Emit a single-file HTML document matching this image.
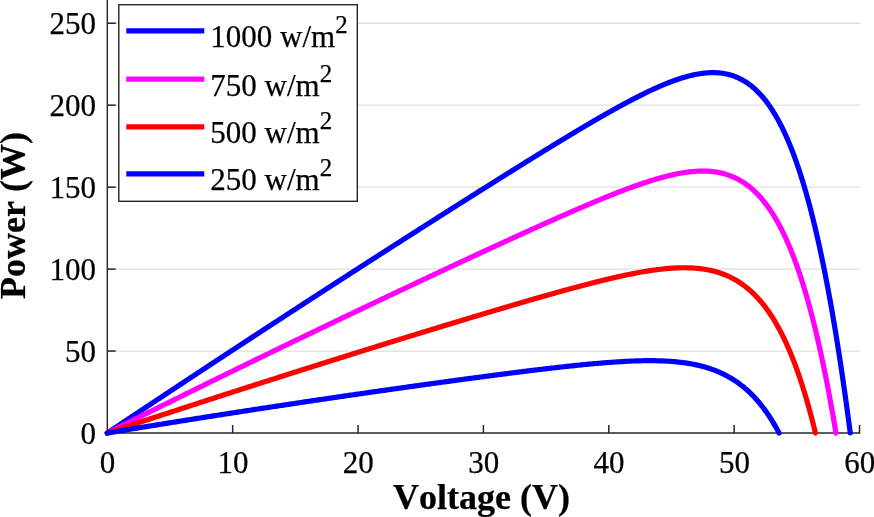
<!DOCTYPE html>
<html><head><meta charset="utf-8"><style>
html,body{margin:0;padding:0;background:#fff;overflow:hidden}
svg{display:block;will-change:transform}
text{font-family:"Liberation Serif",serif;font-size:31px;fill:#000;font-kerning:none;stroke:#000;stroke-width:0.25px}
.lab{font-weight:bold;font-size:36px}
</style></head><body>
<svg width="874" height="517" viewBox="0 0 874 517">
<rect width="874" height="517" fill="#fff"/>
<line x1="107.3" y1="351.05" x2="859.9" y2="351.05" stroke="#dfdfdf" stroke-width="1.3"/><line x1="107.3" y1="269.10" x2="859.9" y2="269.10" stroke="#dfdfdf" stroke-width="1.3"/><line x1="107.3" y1="187.15" x2="859.9" y2="187.15" stroke="#dfdfdf" stroke-width="1.3"/><line x1="107.3" y1="105.20" x2="859.9" y2="105.20" stroke="#dfdfdf" stroke-width="1.3"/><line x1="107.3" y1="23.25" x2="859.9" y2="23.25" stroke="#dfdfdf" stroke-width="1.3"/>
<line x1="107.3" y1="0" x2="107.3" y2="433.85" stroke="#262626" stroke-width="1.4"/>
<line x1="106.60" y1="433.0" x2="860.20" y2="433.0" stroke="#262626" stroke-width="1.7"/>
<line x1="107.3" y1="351.05" x2="115.70" y2="351.05" stroke="#262626" stroke-width="1.5"/><line x1="107.3" y1="269.10" x2="115.70" y2="269.10" stroke="#262626" stroke-width="1.5"/><line x1="107.3" y1="187.15" x2="115.70" y2="187.15" stroke="#262626" stroke-width="1.5"/><line x1="107.3" y1="105.20" x2="115.70" y2="105.20" stroke="#262626" stroke-width="1.5"/><line x1="107.3" y1="23.25" x2="115.70" y2="23.25" stroke="#262626" stroke-width="1.5"/><line x1="232.67" y1="433" x2="232.67" y2="425.0" stroke="#262626" stroke-width="1.5"/><line x1="358.04" y1="433" x2="358.04" y2="425.0" stroke="#262626" stroke-width="1.5"/><line x1="483.41" y1="433" x2="483.41" y2="425.0" stroke="#262626" stroke-width="1.5"/><line x1="608.78" y1="433" x2="608.78" y2="425.0" stroke="#262626" stroke-width="1.5"/><line x1="734.15" y1="433" x2="734.15" y2="425.0" stroke="#262626" stroke-width="1.5"/><line x1="859.52" y1="433" x2="859.52" y2="425.0" stroke="#262626" stroke-width="1.5"/>
<path d="M107.30,433.00 L108.29,432.34 L109.28,431.68 L110.27,431.02 L111.27,430.35 L112.26,429.69 L113.25,429.03 L114.24,428.37 L115.23,427.71 L116.22,427.05 L117.21,426.39 L118.20,425.73 L119.20,425.07 L120.19,424.41 L121.18,423.75 L122.17,423.09 L123.16,422.43 L124.15,421.77 L125.14,421.11 L126.13,420.45 L127.13,419.79 L128.12,419.13 L129.11,418.47 L130.10,417.81 L131.09,417.15 L132.08,416.49 L133.07,415.83 L134.06,415.17 L135.06,414.51 L136.05,413.85 L137.04,413.20 L138.03,412.54 L139.02,411.88 L140.01,411.22 L141.00,410.56 L142.00,409.90 L142.99,409.24 L143.98,408.59 L144.97,407.93 L145.96,407.27 L146.95,406.61 L147.94,405.95 L148.93,405.30 L149.93,404.64 L150.92,403.98 L151.91,403.32 L152.90,402.67 L153.89,402.01 L154.88,401.35 L155.87,400.69 L156.86,400.04 L157.86,399.38 L158.85,398.72 L159.84,398.07 L160.83,397.41 L161.82,396.75 L162.81,396.10 L163.80,395.44 L164.80,394.78 L165.79,394.13 L166.78,393.47 L167.77,392.82 L168.76,392.16 L169.75,391.50 L170.74,390.85 L171.73,390.19 L172.73,389.54 L173.72,388.88 L174.71,388.23 L175.70,387.57 L176.69,386.92 L177.68,386.26 L178.67,385.61 L179.66,384.95 L180.66,384.30 L181.65,383.64 L182.64,382.99 L183.63,382.33 L184.62,381.68 L185.61,381.02 L186.60,380.37 L187.59,379.72 L188.59,379.06 L189.58,378.41 L190.57,377.75 L191.56,377.10 L192.55,376.45 L193.54,375.79 L194.53,375.14 L195.53,374.49 L196.52,373.83 L197.51,373.18 L198.50,372.53 L199.49,371.87 L200.48,371.22 L201.47,370.57 L202.46,369.91 L203.46,369.26 L204.45,368.61 L205.44,367.96 L206.43,367.30 L207.42,366.65 L208.41,366.00 L209.40,365.35 L210.39,364.69 L211.39,364.04 L212.38,363.39 L213.37,362.74 L214.36,362.09 L215.35,361.44 L216.34,360.78 L217.33,360.13 L218.32,359.48 L219.32,358.83 L220.31,358.18 L221.30,357.53 L222.29,356.88 L223.28,356.23 L224.27,355.58 L225.26,354.92 L226.26,354.27 L227.25,353.62 L228.24,352.97 L229.23,352.32 L230.22,351.67 L231.21,351.02 L232.20,350.37 L233.19,349.72 L234.19,349.07 L235.18,348.42 L236.17,347.77 L237.16,347.12 L238.15,346.47 L239.14,345.82 L240.13,345.17 L241.12,344.53 L242.12,343.88 L243.11,343.23 L244.10,342.58 L245.09,341.93 L246.08,341.28 L247.07,340.63 L248.06,339.98 L249.05,339.33 L250.05,338.69 L251.04,338.04 L252.03,337.39 L253.02,336.74 L254.01,336.09 L255.00,335.45 L255.99,334.80 L256.99,334.15 L257.98,333.50 L258.97,332.85 L259.96,332.21 L260.95,331.56 L261.94,330.91 L262.93,330.27 L263.92,329.62 L264.92,328.97 L265.91,328.32 L266.90,327.68 L267.89,327.03 L268.88,326.38 L269.87,325.74 L270.86,325.09 L271.85,324.44 L272.85,323.80 L273.84,323.15 L274.83,322.51 L275.82,321.86 L276.81,321.21 L277.80,320.57 L278.79,319.92 L279.79,319.28 L280.78,318.63 L281.77,317.99 L282.76,317.34 L283.75,316.69 L284.74,316.05 L285.73,315.40 L286.72,314.76 L287.72,314.11 L288.71,313.47 L289.70,312.82 L290.69,312.18 L291.68,311.54 L292.67,310.89 L293.66,310.25 L294.65,309.60 L295.65,308.96 L296.64,308.31 L297.63,307.67 L298.62,307.03 L299.61,306.38 L300.60,305.74 L301.59,305.09 L302.58,304.45 L303.58,303.81 L304.57,303.16 L305.56,302.52 L306.55,301.88 L307.54,301.23 L308.53,300.59 L309.52,299.95 L310.52,299.31 L311.51,298.66 L312.50,298.02 L313.49,297.38 L314.48,296.74 L315.47,296.09 L316.46,295.45 L317.45,294.81 L318.45,294.17 L319.44,293.52 L320.43,292.88 L321.42,292.24 L322.41,291.60 L323.40,290.96 L324.39,290.32 L325.38,289.67 L326.38,289.03 L327.37,288.39 L328.36,287.75 L329.35,287.11 L330.34,286.47 L331.33,285.83 L332.32,285.19 L333.31,284.55 L334.31,283.91 L335.30,283.27 L336.29,282.62 L337.28,281.98 L338.27,281.34 L339.26,280.70 L340.25,280.06 L341.25,279.42 L342.24,278.78 L343.23,278.14 L344.22,277.50 L345.21,276.87 L346.20,276.23 L347.19,275.59 L348.18,274.95 L349.18,274.31 L350.17,273.67 L351.16,273.03 L352.15,272.39 L353.14,271.75 L354.13,271.11 L355.12,270.47 L356.11,269.84 L357.11,269.20 L358.10,268.56 L359.09,267.92 L360.08,267.28 L361.07,266.64 L362.06,266.01 L363.05,265.37 L364.04,264.73 L365.04,264.09 L366.03,263.46 L367.02,262.82 L368.01,262.18 L369.00,261.54 L369.99,260.91 L370.98,260.27 L371.98,259.63 L372.97,259.00 L373.96,258.36 L374.95,257.72 L375.94,257.09 L376.93,256.45 L377.92,255.81 L378.91,255.18 L379.91,254.54 L380.90,253.90 L381.89,253.27 L382.88,252.63 L383.87,252.00 L384.86,251.36 L385.85,250.72 L386.84,250.09 L387.84,249.45 L388.83,248.82 L389.82,248.18 L390.81,247.55 L391.80,246.91 L392.79,246.28 L393.78,245.64 L394.78,245.01 L395.77,244.37 L396.76,243.74 L397.75,243.10 L398.74,242.47 L399.73,241.84 L400.72,241.20 L401.71,240.57 L402.71,239.93 L403.70,239.30 L404.69,238.67 L405.68,238.03 L406.67,237.40 L407.66,236.76 L408.65,236.13 L409.64,235.50 L410.64,234.86 L411.63,234.23 L412.62,233.60 L413.61,232.97 L414.60,232.33 L415.59,231.70 L416.58,231.07 L417.57,230.44 L418.57,229.80 L419.56,229.17 L420.55,228.54 L421.54,227.91 L422.53,227.27 L423.52,226.64 L424.51,226.01 L425.51,225.38 L426.50,224.75 L427.49,224.12 L428.48,223.49 L429.47,222.85 L430.46,222.22 L431.45,221.59 L432.44,220.96 L433.44,220.33 L434.43,219.70 L435.42,219.07 L436.41,218.44 L437.40,217.81 L438.39,217.18 L439.38,216.55 L440.37,215.92 L441.37,215.29 L442.36,214.66 L443.35,214.03 L444.34,213.40 L445.33,212.77 L446.32,212.14 L447.31,211.51 L448.30,210.88 L449.30,210.26 L450.29,209.63 L451.28,209.00 L452.27,208.37 L453.26,207.74 L454.25,207.11 L455.24,206.48 L456.24,205.86 L457.23,205.23 L458.22,204.60 L459.21,203.97 L460.20,203.35 L461.19,202.72 L462.18,202.09 L463.17,201.46 L464.17,200.84 L465.16,200.21 L466.15,199.58 L467.14,198.96 L468.13,198.33 L469.12,197.70 L470.11,197.08 L471.10,196.45 L472.10,195.83 L473.09,195.20 L474.08,194.58 L475.07,193.95 L476.06,193.33 L477.05,192.70 L478.04,192.08 L479.03,191.45 L480.03,190.83 L481.02,190.20 L482.01,189.58 L483.00,188.95 L483.99,188.33 L484.98,187.70 L485.97,187.08 L486.97,186.46 L487.96,185.83 L488.95,185.21 L489.94,184.59 L490.93,183.96 L491.92,183.34 L492.91,182.72 L493.90,182.10 L494.90,181.48 L495.89,180.85 L496.88,180.23 L497.87,179.61 L498.86,178.99 L499.85,178.37 L500.84,177.75 L501.83,177.12 L502.83,176.50 L503.82,175.88 L504.81,175.26 L505.80,174.64 L506.79,174.02 L507.78,173.40 L508.77,172.78 L509.77,172.17 L510.76,171.55 L511.75,170.93 L512.74,170.31 L513.73,169.69 L514.72,169.07 L515.71,168.45 L516.70,167.84 L517.70,167.22 L518.69,166.60 L519.68,165.99 L520.67,165.37 L521.66,164.75 L522.65,164.14 L523.64,163.52 L524.63,162.91 L525.63,162.29 L526.62,161.67 L527.61,161.06 L528.60,160.45 L529.59,159.83 L530.58,159.22 L531.57,158.60 L532.56,157.99 L533.56,157.38 L534.55,156.76 L535.54,156.15 L536.53,155.54 L537.52,154.93 L538.51,154.32 L539.50,153.71 L540.50,153.10 L541.49,152.49 L542.48,151.88 L543.47,151.27 L544.46,150.66 L545.45,150.05 L546.44,149.44 L547.43,148.83 L548.43,148.22 L549.42,147.62 L550.41,147.01 L551.40,146.40 L552.39,145.80 L553.38,145.19 L554.37,144.59 L555.36,143.98 L556.36,143.38 L557.35,142.77 L558.34,142.17 L559.33,141.57 L560.32,140.97 L561.31,140.36 L562.30,139.76 L563.29,139.16 L564.29,138.56 L565.28,137.96 L566.27,137.36 L567.26,136.76 L568.25,136.17 L569.24,135.57 L570.23,134.97 L571.23,134.38 L572.22,133.78 L573.21,133.19 L574.20,132.59 L575.19,132.00 L576.18,131.40 L577.17,130.81 L578.16,130.22 L579.16,129.63 L580.15,129.04 L581.14,128.45 L582.13,127.86 L583.12,127.28 L584.11,126.69 L585.10,126.10 L586.09,125.52 L587.09,124.93 L588.08,124.35 L589.07,123.77 L590.06,123.18 L591.05,122.60 L592.04,122.02 L593.03,121.45 L594.03,120.87 L595.02,120.29 L596.01,119.71 L597.00,119.14 L597.99,118.57 L598.98,117.99 L599.97,117.42 L600.96,116.85 L601.96,116.28 L602.95,115.71 L603.94,115.15 L604.93,114.58 L605.92,114.02 L606.91,113.45 L607.90,112.89 L608.89,112.33 L609.89,111.77 L610.88,111.22 L611.87,110.66 L612.86,110.11 L613.85,109.55 L614.84,109.00 L615.83,108.45 L616.82,107.90 L617.82,107.36 L618.81,106.81 L619.80,106.27 L620.79,105.73 L621.78,105.19 L622.77,104.65 L623.76,104.11 L624.76,103.58 L625.75,103.04 L626.74,102.51 L627.73,101.99 L628.72,101.46 L629.71,100.94 L630.70,100.41 L631.69,99.89 L632.69,99.38 L633.68,98.86 L634.67,98.35 L635.66,97.84 L637.15,97.08 L638.63,96.32 L640.12,95.57 L641.61,94.83 L643.09,94.10 L644.58,93.37 L646.07,92.64 L647.55,91.93 L649.04,91.22 L650.53,90.52 L652.02,89.82 L653.50,89.14 L654.99,88.46 L656.48,87.79 L657.96,87.13 L659.45,86.48 L660.94,85.84 L662.42,85.21 L663.91,84.59 L665.40,83.97 L666.89,83.37 L668.37,82.78 L669.86,82.21 L671.35,81.64 L672.83,81.09 L674.32,80.55 L675.81,80.02 L677.29,79.50 L678.78,79.00 L680.27,78.52 L681.75,78.05 L683.24,77.59 L684.73,77.15 L686.22,76.73 L687.70,76.32 L689.19,75.93 L690.68,75.56 L692.16,75.21 L693.65,74.88 L695.14,74.57 L696.62,74.28 L698.11,74.01 L699.60,73.76 L701.08,73.53 L702.57,73.33 L704.06,73.15 L705.55,73.00 L707.03,72.87 L708.52,72.77 L710.01,72.70 L711.49,72.65 L712.98,72.64 L714.47,72.65 L715.95,72.70 L717.44,72.78 L718.93,72.89 L720.41,73.03 L721.90,73.21 L723.39,73.43 L724.88,73.69 L726.36,73.98 L727.85,74.31 L729.34,74.69 L730.82,75.11 L732.31,75.57 L733.80,76.07 L735.28,76.63 L736.77,77.23 L738.26,77.88 L739.75,78.58 L741.23,79.33 L742.22,79.86 L743.21,80.42 L744.21,81.00 L745.20,81.61 L746.19,82.24 L747.18,82.90 L748.17,83.59 L749.16,84.30 L750.15,85.04 L751.15,85.81 L752.14,86.61 L753.13,87.44 L754.12,88.30 L755.11,89.19 L756.10,90.11 L757.09,91.06 L758.08,92.05 L759.08,93.07 L760.07,94.12 L761.06,95.21 L762.05,96.33 L763.04,97.49 L764.03,98.68 L765.02,99.91 L766.01,101.18 L767.01,102.48 L768.00,103.83 L768.99,105.21 L769.98,106.64 L770.97,108.11 L771.96,109.61 L772.95,111.16 L773.94,112.76 L774.94,114.40 L775.93,116.08 L776.92,117.81 L777.91,119.58 L778.90,121.40 L779.89,123.27 L780.88,125.19 L781.88,127.16 L782.87,129.17 L783.36,130.20 L783.86,131.24 L784.35,132.30 L784.85,133.36 L785.34,134.44 L785.84,135.53 L786.34,136.64 L786.83,137.76 L787.33,138.89 L787.82,140.04 L788.32,141.20 L788.81,142.38 L789.31,143.57 L789.81,144.77 L790.30,145.99 L790.80,147.22 L791.29,148.46 L791.79,149.72 L792.28,151.00 L792.78,152.29 L793.27,153.60 L793.77,154.91 L794.27,156.25 L794.76,157.60 L795.26,158.97 L795.75,160.35 L796.25,161.74 L796.74,163.16 L797.24,164.58 L797.74,166.03 L798.23,167.49 L798.73,168.96 L799.22,170.46 L799.72,171.96 L800.21,173.49 L800.71,175.03 L801.21,176.59 L801.70,178.16 L802.20,179.76 L802.69,181.37 L803.19,182.99 L803.68,184.63 L804.18,186.30 L804.67,187.97 L805.17,189.67 L805.67,191.38 L806.16,193.12 L806.66,194.87 L807.15,196.63 L807.65,198.42 L808.14,200.22 L808.64,202.05 L809.14,203.89 L809.63,205.75 L810.13,207.63 L810.62,209.52 L811.12,211.44 L811.61,213.38 L812.11,215.33 L812.61,217.31 L813.10,219.30 L813.60,221.31 L814.09,223.35 L814.59,225.40 L815.08,227.47 L815.58,229.57 L816.07,231.68 L816.57,233.82 L817.07,235.97 L817.56,238.14 L818.06,240.34 L818.55,242.56 L819.05,244.79 L819.54,247.05 L820.04,249.33 L820.54,251.63 L821.03,253.96 L821.53,256.30 L822.02,258.67 L822.52,261.05 L823.01,263.46 L823.51,265.89 L824.01,268.35 L824.50,270.82 L825.00,273.32 L825.49,275.84 L825.99,278.39 L826.48,280.95 L826.98,283.54 L827.47,286.15 L827.97,288.79 L828.47,291.44 L828.96,294.13 L829.46,296.83 L829.95,299.56 L830.45,302.31 L830.94,305.09 L831.44,307.88 L831.94,310.71 L832.43,313.55 L832.93,316.43 L833.42,319.32 L833.92,322.24 L834.41,325.19 L834.91,328.16 L835.40,331.15 L835.90,334.17 L836.40,337.21 L836.89,340.28 L837.39,343.38 L837.88,346.50 L838.38,349.64 L838.87,352.81 L839.37,356.01 L839.87,359.23 L840.36,362.48 L840.86,365.75 L841.35,369.05 L841.85,372.37 L842.34,375.73 L842.84,379.10 L843.34,382.51 L843.83,385.94 L844.33,389.40 L844.82,392.88 L845.32,396.39 L845.81,399.93 L846.31,403.49 L846.80,407.09 L847.30,410.71 L847.80,414.35 L848.29,418.03 L848.79,421.73 L849.28,425.46 L849.78,429.22 L850.27,433.00" fill="none" stroke="#0000ff" stroke-width="5.2" stroke-linejoin="round" stroke-linecap="round"/><path d="M107.30,433.00 L108.76,432.27 L110.22,431.54 L111.67,430.81 L113.13,430.09 L114.59,429.36 L116.05,428.63 L117.51,427.90 L118.97,427.17 L120.42,426.45 L121.88,425.72 L123.34,424.99 L124.80,424.26 L126.26,423.54 L127.72,422.81 L129.17,422.09 L130.63,421.36 L132.09,420.63 L133.55,419.91 L135.01,419.18 L136.47,418.46 L137.92,417.73 L139.38,417.01 L140.84,416.28 L142.30,415.56 L143.76,414.83 L145.22,414.11 L146.67,413.39 L148.13,412.66 L149.59,411.94 L151.05,411.21 L152.51,410.49 L153.97,409.77 L155.42,409.05 L156.88,408.32 L158.34,407.60 L159.80,406.88 L161.26,406.16 L162.71,405.44 L164.17,404.71 L165.63,403.99 L167.09,403.27 L168.55,402.55 L170.01,401.83 L171.46,401.11 L172.92,400.39 L174.38,399.67 L175.84,398.95 L177.30,398.23 L178.76,397.51 L180.21,396.79 L181.67,396.07 L183.13,395.35 L184.59,394.63 L186.05,393.91 L187.51,393.20 L188.96,392.48 L190.42,391.76 L191.88,391.04 L193.34,390.32 L194.80,389.61 L196.26,388.89 L197.71,388.17 L199.17,387.45 L200.63,386.74 L202.09,386.02 L203.55,385.31 L205.00,384.59 L206.46,383.87 L207.92,383.16 L209.38,382.44 L210.84,381.73 L212.30,381.01 L213.75,380.30 L215.21,379.58 L216.67,378.87 L218.13,378.15 L219.59,377.44 L221.05,376.73 L222.50,376.01 L223.96,375.30 L225.42,374.58 L226.88,373.87 L228.34,373.16 L229.80,372.45 L231.25,371.73 L232.71,371.02 L234.17,370.31 L235.63,369.60 L237.09,368.89 L238.55,368.17 L240.00,367.46 L241.46,366.75 L242.92,366.04 L244.38,365.33 L245.84,364.62 L247.30,363.91 L248.75,363.20 L250.21,362.49 L251.67,361.78 L253.13,361.07 L254.59,360.36 L256.04,359.65 L257.50,358.94 L258.96,358.23 L260.42,357.52 L261.88,356.82 L263.34,356.11 L264.79,355.40 L266.25,354.69 L267.71,353.98 L269.17,353.28 L270.63,352.57 L272.09,351.86 L273.54,351.16 L275.00,350.45 L276.46,349.74 L277.92,349.04 L279.38,348.33 L280.84,347.62 L282.29,346.92 L283.75,346.21 L285.21,345.51 L286.67,344.80 L288.13,344.10 L289.59,343.39 L291.04,342.69 L292.50,341.98 L293.96,341.28 L295.42,340.58 L296.88,339.87 L298.34,339.17 L299.79,338.47 L301.25,337.76 L302.71,337.06 L304.17,336.36 L305.63,335.65 L307.08,334.95 L308.54,334.25 L310.00,333.55 L311.46,332.85 L312.92,332.15 L314.38,331.44 L315.83,330.74 L317.29,330.04 L318.75,329.34 L320.21,328.64 L321.67,327.94 L323.13,327.24 L324.58,326.54 L326.04,325.84 L327.50,325.14 L328.96,324.44 L330.42,323.74 L331.88,323.04 L333.33,322.34 L334.79,321.65 L336.25,320.95 L337.71,320.25 L339.17,319.55 L340.63,318.85 L342.08,318.16 L343.54,317.46 L345.00,316.76 L346.46,316.07 L347.92,315.37 L349.38,314.67 L350.83,313.98 L352.29,313.28 L353.75,312.58 L355.21,311.89 L356.67,311.19 L358.12,310.50 L359.58,309.80 L361.04,309.11 L362.50,308.41 L363.96,307.72 L365.42,307.02 L366.87,306.33 L368.33,305.64 L369.79,304.94 L371.25,304.25 L372.71,303.56 L374.17,302.86 L375.62,302.17 L377.08,301.48 L378.54,300.78 L380.00,300.09 L381.46,299.40 L382.92,298.71 L384.37,298.02 L385.83,297.33 L387.29,296.63 L388.75,295.94 L390.21,295.25 L391.67,294.56 L393.12,293.87 L394.58,293.18 L396.04,292.49 L397.50,291.80 L398.96,291.11 L400.41,290.42 L401.87,289.73 L403.33,289.05 L404.79,288.36 L406.25,287.67 L407.71,286.98 L409.16,286.29 L410.62,285.60 L412.08,284.92 L413.54,284.23 L415.00,283.54 L416.46,282.86 L417.91,282.17 L419.37,281.48 L420.83,280.80 L422.29,280.11 L423.75,279.42 L425.21,278.74 L426.66,278.05 L428.12,277.37 L429.58,276.68 L431.04,276.00 L432.50,275.31 L433.96,274.63 L435.41,273.95 L436.87,273.26 L438.33,272.58 L439.79,271.90 L441.25,271.21 L442.71,270.53 L444.16,269.85 L445.62,269.17 L447.08,268.48 L448.54,267.80 L450.00,267.12 L451.45,266.44 L452.91,265.76 L454.37,265.08 L455.83,264.40 L457.29,263.72 L458.75,263.04 L460.20,262.36 L461.66,261.68 L463.12,261.00 L464.58,260.32 L466.04,259.64 L467.50,258.97 L468.95,258.29 L470.41,257.61 L471.87,256.93 L473.33,256.26 L474.79,255.58 L476.25,254.90 L477.70,254.23 L479.16,253.55 L480.62,252.88 L482.08,252.20 L483.54,251.53 L485.00,250.85 L486.45,250.18 L487.91,249.50 L489.37,248.83 L490.83,248.16 L492.29,247.48 L493.75,246.81 L495.20,246.14 L496.66,245.47 L498.12,244.80 L499.58,244.13 L501.04,243.46 L502.49,242.79 L503.95,242.12 L505.41,241.45 L506.87,240.78 L508.33,240.11 L509.79,239.44 L511.24,238.77 L512.70,238.11 L514.16,237.44 L515.62,236.77 L517.08,236.11 L518.54,235.44 L519.99,234.78 L521.45,234.12 L522.91,233.45 L524.37,232.79 L525.83,232.13 L527.29,231.46 L528.74,230.80 L530.20,230.14 L531.66,229.48 L533.12,228.82 L534.58,228.16 L536.04,227.51 L537.49,226.85 L538.95,226.19 L540.41,225.54 L541.87,224.88 L543.33,224.23 L544.79,223.57 L546.24,222.92 L547.70,222.27 L549.16,221.61 L550.62,220.96 L552.08,220.31 L553.53,219.66 L554.99,219.02 L556.45,218.37 L557.91,217.72 L559.37,217.08 L560.83,216.43 L562.28,215.79 L563.74,215.15 L565.20,214.51 L566.66,213.87 L568.12,213.23 L569.58,212.59 L571.03,211.96 L572.49,211.32 L573.95,210.69 L575.41,210.05 L576.87,209.42 L578.33,208.79 L579.78,208.17 L581.24,207.54 L582.70,206.91 L584.16,206.29 L585.62,205.67 L587.08,205.05 L588.53,204.43 L589.99,203.81 L591.45,203.20 L592.91,202.58 L594.37,201.97 L595.82,201.36 L597.28,200.76 L598.74,200.15 L600.20,199.55 L601.66,198.95 L603.12,198.35 L604.57,197.76 L606.03,197.16 L607.49,196.57 L608.95,195.99 L610.41,195.40 L611.87,194.82 L613.32,194.24 L614.78,193.66 L616.24,193.09 L617.70,192.52 L619.16,191.95 L620.62,191.39 L622.07,190.83 L623.53,190.28 L624.99,189.72 L626.45,189.18 L627.91,188.63 L629.37,188.09 L630.82,187.56 L632.28,187.03 L633.74,186.50 L635.20,185.98 L636.66,185.46 L638.12,184.95 L639.57,184.44 L641.03,183.94 L642.49,183.44 L643.95,182.95 L645.41,182.47 L646.86,181.99 L648.32,181.52 L649.78,181.05 L651.24,180.59 L652.70,180.14 L654.16,179.70 L655.61,179.26 L657.07,178.83 L658.53,178.41 L659.99,178.00 L661.45,177.59 L662.91,177.19 L664.36,176.81 L665.82,176.43 L667.28,176.06 L668.74,175.70 L670.20,175.35 L671.66,175.01 L673.11,174.69 L674.57,174.37 L676.03,174.07 L677.49,173.77 L678.95,173.49 L680.41,173.23 L681.86,172.97 L683.32,172.73 L684.78,172.51 L686.24,172.29 L687.70,172.10 L689.16,171.92 L690.61,171.75 L692.07,171.60 L693.53,171.47 L694.99,171.36 L696.45,171.26 L697.90,171.18 L699.36,171.12 L701.31,171.08 L703.25,171.07 L705.20,171.10 L706.65,171.14 L708.11,171.22 L709.57,171.31 L711.03,171.43 L712.49,171.58 L713.95,171.75 L715.40,171.95 L716.86,172.18 L718.32,172.43 L719.78,172.72 L721.24,173.04 L722.70,173.39 L724.15,173.77 L725.61,174.18 L727.07,174.63 L728.53,175.12 L729.99,175.64 L731.45,176.21 L732.90,176.81 L734.36,177.45 L735.82,178.13 L737.28,178.86 L738.74,179.63 L739.71,180.17 L740.68,180.73 L741.65,181.31 L742.63,181.91 L743.60,182.54 L744.57,183.18 L745.54,183.85 L746.51,184.54 L747.49,185.26 L748.46,186.00 L749.43,186.77 L750.40,187.56 L751.38,188.37 L752.35,189.21 L753.32,190.08 L754.29,190.98 L755.26,191.90 L756.24,192.85 L757.21,193.83 L758.18,194.84 L759.15,195.88 L760.12,196.95 L761.10,198.05 L762.07,199.18 L763.04,200.35 L764.01,201.55 L764.99,202.78 L765.96,204.04 L766.93,205.34 L767.90,206.67 L768.87,208.04 L769.85,209.44 L770.82,210.89 L771.79,212.37 L772.76,213.88 L773.74,215.44 L774.71,217.04 L775.68,218.68 L776.65,220.35 L777.62,222.07 L778.60,223.84 L779.57,225.64 L780.54,227.49 L781.51,229.39 L782.49,231.33 L783.46,233.31 L784.43,235.34 L784.92,236.38 L785.40,237.43 L785.89,238.48 L786.37,239.56 L786.86,240.64 L787.35,241.73 L787.83,242.84 L788.32,243.96 L788.80,245.10 L789.29,246.24 L789.78,247.40 L790.26,248.57 L790.75,249.76 L791.23,250.96 L791.72,252.17 L792.21,253.40 L792.69,254.64 L793.18,255.89 L793.67,257.15 L794.15,258.44 L794.64,259.73 L795.12,261.04 L795.61,262.36 L796.10,263.70 L796.58,265.05 L797.07,266.42 L797.55,267.80 L798.04,269.19 L798.53,270.60 L799.01,272.03 L799.50,273.47 L799.98,274.92 L800.47,276.39 L800.96,277.88 L801.44,279.38 L801.93,280.90 L802.42,282.43 L802.90,283.98 L803.39,285.55 L803.87,287.13 L804.36,288.72 L804.85,290.34 L805.33,291.97 L805.82,293.61 L806.30,295.28 L806.79,296.96 L807.28,298.66 L807.76,300.37 L808.25,302.10 L808.73,303.85 L809.22,305.61 L809.71,307.40 L810.19,309.20 L810.68,311.02 L811.16,312.85 L811.65,314.71 L812.14,316.58 L812.62,318.47 L813.11,320.38 L813.60,322.31 L814.08,324.25 L814.57,326.22 L815.05,328.20 L815.54,330.21 L816.03,332.23 L816.51,334.27 L817.00,336.33 L817.48,338.41 L817.97,340.51 L818.46,342.62 L818.94,344.76 L819.43,346.92 L819.91,349.10 L820.40,351.30 L820.89,353.52 L821.37,355.76 L821.86,358.01 L822.34,360.30 L822.83,362.60 L823.32,364.92 L823.80,367.26 L824.29,369.62 L824.78,372.01 L825.26,374.42 L825.75,376.84 L826.23,379.29 L826.72,381.76 L827.21,384.26 L827.69,386.77 L828.18,389.31 L828.66,391.87 L829.15,394.45 L829.64,397.05 L830.12,399.68 L830.61,402.33 L831.09,405.00 L831.58,407.70 L832.07,410.41 L832.55,413.15 L833.04,415.92 L833.53,418.71 L834.01,421.52 L834.50,424.35 L834.98,427.21 L835.47,430.09 L835.96,433.00" fill="none" stroke="#ff00ff" stroke-width="5.2" stroke-linejoin="round" stroke-linecap="round"/><path d="M107.30,433.00 L108.72,432.53 L110.13,432.06 L111.55,431.59 L112.97,431.12 L114.39,430.65 L115.80,430.19 L117.22,429.72 L118.64,429.25 L120.05,428.78 L121.47,428.31 L122.89,427.84 L124.31,427.38 L125.72,426.91 L127.14,426.44 L128.56,425.97 L129.97,425.51 L131.39,425.04 L132.81,424.57 L134.23,424.11 L135.64,423.64 L137.06,423.17 L138.48,422.71 L139.90,422.24 L141.31,421.78 L142.73,421.31 L144.15,420.84 L145.56,420.38 L146.98,419.91 L148.40,419.45 L149.82,418.98 L151.23,418.52 L152.65,418.05 L154.07,417.59 L155.48,417.12 L156.90,416.66 L158.32,416.20 L159.74,415.73 L161.15,415.27 L162.57,414.80 L163.99,414.34 L165.40,413.88 L166.82,413.41 L168.24,412.95 L169.66,412.49 L171.07,412.03 L172.49,411.56 L173.91,411.10 L175.32,410.64 L176.74,410.18 L178.16,409.71 L179.58,409.25 L180.99,408.79 L182.41,408.33 L183.83,407.87 L185.24,407.41 L186.66,406.94 L188.08,406.48 L189.50,406.02 L190.91,405.56 L192.33,405.10 L193.75,404.64 L195.16,404.18 L196.58,403.72 L198.00,403.26 L199.42,402.80 L200.83,402.34 L202.25,401.88 L203.67,401.42 L205.09,400.96 L206.50,400.50 L207.92,400.05 L209.34,399.59 L210.75,399.13 L212.17,398.67 L213.59,398.21 L215.01,397.75 L216.42,397.30 L217.84,396.84 L219.26,396.38 L220.67,395.92 L222.09,395.47 L223.51,395.01 L224.93,394.55 L226.34,394.10 L227.76,393.64 L229.18,393.18 L230.59,392.73 L232.01,392.27 L233.43,391.81 L234.85,391.36 L236.26,390.90 L237.68,390.45 L239.10,389.99 L240.51,389.53 L241.93,389.08 L243.35,388.62 L244.77,388.17 L246.18,387.72 L247.60,387.26 L249.02,386.81 L250.43,386.35 L251.85,385.90 L253.27,385.44 L254.69,384.99 L256.10,384.54 L257.52,384.08 L258.94,383.63 L260.35,383.18 L261.77,382.72 L263.19,382.27 L264.61,381.82 L266.02,381.36 L267.44,380.91 L268.86,380.46 L270.28,380.01 L271.69,379.56 L273.11,379.10 L274.53,378.65 L275.94,378.20 L277.36,377.75 L278.78,377.30 L280.20,376.85 L281.61,376.40 L283.03,375.95 L284.45,375.50 L285.86,375.04 L287.28,374.59 L288.70,374.14 L290.12,373.69 L291.53,373.24 L292.95,372.79 L294.37,372.35 L295.78,371.90 L297.20,371.45 L298.62,371.00 L300.04,370.55 L301.45,370.10 L302.87,369.65 L304.29,369.20 L305.70,368.75 L307.12,368.31 L308.54,367.86 L309.96,367.41 L311.37,366.96 L312.79,366.52 L314.21,366.07 L315.62,365.62 L317.04,365.17 L318.46,364.73 L319.88,364.28 L321.29,363.83 L322.71,363.39 L324.13,362.94 L325.55,362.49 L326.96,362.05 L328.38,361.60 L329.80,361.16 L331.21,360.71 L332.63,360.27 L334.05,359.82 L335.47,359.38 L336.88,358.93 L338.30,358.49 L339.72,358.04 L341.13,357.60 L342.55,357.15 L343.97,356.71 L345.39,356.27 L346.80,355.82 L348.22,355.38 L349.64,354.93 L351.05,354.49 L352.47,354.05 L353.89,353.60 L355.31,353.16 L356.72,352.72 L358.14,352.28 L359.56,351.83 L360.97,351.39 L362.39,350.95 L363.81,350.51 L365.23,350.07 L366.64,349.63 L368.06,349.18 L369.48,348.74 L370.89,348.30 L372.31,347.86 L373.73,347.42 L375.15,346.98 L376.56,346.54 L377.98,346.10 L379.40,345.66 L380.81,345.22 L382.23,344.78 L383.65,344.34 L385.07,343.90 L386.48,343.46 L387.90,343.02 L389.32,342.58 L390.74,342.14 L392.15,341.71 L393.57,341.27 L394.99,340.83 L396.40,340.39 L397.82,339.95 L399.24,339.52 L400.66,339.08 L402.07,338.64 L403.49,338.20 L404.91,337.77 L406.32,337.33 L407.74,336.89 L409.16,336.46 L410.58,336.02 L411.99,335.59 L413.41,335.15 L414.83,334.71 L416.24,334.28 L417.66,333.84 L419.08,333.41 L420.50,332.97 L421.91,332.54 L423.33,332.10 L424.75,331.67 L426.16,331.24 L427.58,330.80 L429.00,330.37 L430.42,329.93 L431.83,329.50 L433.25,329.07 L434.67,328.64 L436.08,328.20 L437.50,327.77 L438.92,327.34 L440.34,326.91 L441.75,326.47 L443.17,326.04 L444.59,325.61 L446.01,325.18 L447.42,324.75 L448.84,324.32 L450.26,323.89 L451.67,323.46 L453.09,323.03 L454.51,322.60 L455.93,322.17 L457.34,321.74 L458.76,321.31 L460.18,320.88 L461.59,320.45 L463.01,320.02 L464.43,319.59 L465.85,319.17 L467.26,318.74 L468.68,318.31 L470.10,317.88 L471.51,317.46 L472.93,317.03 L474.35,316.60 L475.77,316.18 L477.18,315.75 L478.60,315.33 L480.02,314.90 L481.43,314.48 L482.85,314.05 L484.27,313.63 L485.69,313.20 L487.10,312.78 L488.52,312.36 L489.94,311.93 L491.35,311.51 L492.77,311.09 L494.19,310.67 L495.61,310.25 L497.02,309.83 L498.44,309.40 L499.86,308.98 L501.27,308.56 L502.69,308.14 L504.11,307.72 L505.53,307.31 L506.94,306.89 L508.36,306.47 L509.78,306.05 L511.20,305.63 L512.61,305.22 L514.03,304.80 L515.45,304.39 L516.86,303.97 L518.28,303.56 L519.70,303.14 L521.12,302.73 L522.53,302.31 L523.95,301.90 L525.37,301.49 L526.78,301.08 L528.20,300.67 L529.62,300.26 L531.04,299.85 L532.45,299.44 L533.87,299.03 L535.29,298.62 L536.70,298.21 L538.12,297.80 L539.54,297.40 L540.96,296.99 L542.37,296.59 L543.79,296.18 L545.21,295.78 L546.62,295.38 L548.04,294.98 L549.46,294.58 L550.88,294.18 L552.29,293.78 L553.71,293.38 L555.13,292.98 L556.54,292.59 L557.96,292.19 L559.38,291.80 L560.80,291.40 L562.21,291.01 L563.63,290.62 L565.05,290.23 L566.46,289.84 L567.88,289.45 L569.30,289.06 L570.72,288.68 L572.13,288.29 L573.55,287.91 L574.97,287.53 L576.39,287.15 L577.80,286.77 L579.22,286.39 L580.64,286.01 L582.05,285.64 L583.47,285.27 L584.89,284.89 L586.31,284.52 L587.72,284.16 L589.14,283.79 L590.56,283.42 L591.97,283.06 L593.39,282.70 L594.81,282.34 L596.23,281.98 L597.64,281.63 L599.06,281.27 L600.48,280.92 L601.89,280.57 L603.31,280.23 L604.73,279.88 L606.15,279.54 L607.56,279.20 L608.98,278.86 L610.40,278.53 L611.81,278.20 L613.23,277.87 L614.65,277.54 L616.07,277.22 L617.48,276.90 L618.90,276.59 L620.32,276.27 L621.73,275.96 L623.15,275.66 L624.57,275.35 L625.99,275.05 L627.40,274.76 L628.82,274.46 L630.24,274.18 L631.66,273.89 L633.07,273.61 L634.49,273.34 L635.91,273.07 L637.32,272.80 L638.74,272.54 L640.16,272.28 L641.58,272.03 L642.99,271.78 L644.41,271.54 L645.83,271.31 L647.24,271.08 L648.66,270.85 L650.08,270.63 L651.50,270.42 L652.91,270.21 L654.33,270.01 L655.75,269.82 L657.16,269.64 L658.58,269.46 L660.00,269.29 L661.42,269.12 L662.83,268.97 L664.25,268.82 L665.67,268.68 L667.08,268.55 L668.50,268.43 L669.92,268.31 L671.34,268.21 L672.75,268.11 L674.17,268.03 L676.06,267.93 L677.95,267.86 L679.84,267.80 L681.73,267.76 L683.62,267.74 L685.51,267.75 L687.40,267.78 L689.29,267.83 L691.18,267.91 L693.07,268.01 L694.48,268.11 L695.90,268.22 L697.32,268.34 L698.73,268.49 L700.15,268.65 L701.57,268.83 L702.99,269.02 L704.40,269.24 L705.82,269.47 L707.24,269.72 L708.65,270.00 L710.07,270.29 L711.49,270.61 L712.91,270.95 L714.32,271.31 L715.74,271.70 L717.16,272.11 L718.58,272.54 L719.99,273.00 L721.41,273.49 L722.83,274.00 L724.24,274.54 L725.66,275.12 L727.08,275.72 L728.50,276.35 L729.91,277.01 L731.33,277.71 L732.75,278.44 L734.16,279.20 L735.58,280.00 L737.00,280.84 L737.94,281.42 L738.89,282.01 L739.83,282.63 L740.78,283.26 L741.72,283.91 L742.67,284.58 L743.61,285.26 L744.56,285.97 L745.50,286.69 L746.45,287.44 L747.39,288.20 L748.34,288.99 L749.28,289.80 L750.23,290.63 L751.17,291.48 L752.11,292.35 L753.06,293.25 L754.00,294.16 L754.95,295.11 L755.89,296.07 L756.84,297.07 L757.78,298.08 L758.73,299.13 L759.67,300.19 L760.62,301.29 L761.56,302.41 L762.51,303.56 L763.45,304.74 L764.40,305.94 L765.34,307.18 L766.29,308.45 L767.23,309.74 L768.18,311.07 L769.12,312.43 L770.07,313.82 L771.01,315.24 L771.96,316.70 L772.90,318.19 L773.84,319.71 L774.79,321.27 L775.73,322.87 L776.68,324.50 L777.62,326.17 L778.57,327.88 L779.51,329.62 L780.46,331.41 L781.40,333.24 L782.35,335.10 L783.29,337.01 L784.24,338.96 L785.18,340.96 L786.13,342.99 L786.60,344.03 L787.07,345.08 L787.54,346.14 L788.02,347.21 L788.49,348.29 L788.96,349.38 L789.43,350.49 L789.91,351.60 L790.38,352.73 L790.85,353.87 L791.32,355.03 L791.80,356.19 L792.27,357.37 L792.74,358.56 L793.21,359.77 L793.69,360.98 L794.16,362.21 L794.63,363.45 L795.10,364.71 L795.58,365.98 L796.05,367.26 L796.52,368.56 L796.99,369.87 L797.46,371.19 L797.94,372.53 L798.41,373.88 L798.88,375.24 L799.35,376.62 L799.83,378.02 L800.30,379.43 L800.77,380.85 L801.24,382.29 L801.72,383.74 L802.19,385.21 L802.66,386.69 L803.13,388.19 L803.61,389.71 L804.08,391.24 L804.55,392.78 L805.02,394.34 L805.50,395.92 L805.97,397.51 L806.44,399.12 L806.91,400.75 L807.38,402.39 L807.86,404.05 L808.33,405.73 L808.80,407.42 L809.27,409.13 L809.75,410.86 L810.22,412.61 L810.69,414.37 L811.16,416.15 L811.64,417.95 L812.11,419.76 L812.58,421.60 L813.05,423.45 L813.53,425.32 L814.00,427.21 L814.47,429.12 L814.94,431.05 L815.42,433.00" fill="none" stroke="#ff0000" stroke-width="5.2" stroke-linejoin="round" stroke-linecap="round"/><path d="M107.30,433.00 L108.64,432.78 L109.99,432.56 L111.33,432.33 L112.68,432.11 L114.02,431.89 L115.37,431.67 L116.71,431.45 L118.06,431.23 L119.40,431.00 L120.74,430.78 L122.09,430.56 L123.43,430.34 L124.78,430.12 L126.12,429.90 L127.47,429.68 L128.81,429.46 L130.15,429.24 L131.50,429.02 L132.84,428.80 L134.19,428.58 L135.53,428.36 L136.88,428.14 L138.22,427.92 L139.57,427.70 L140.91,427.49 L142.25,427.27 L143.60,427.05 L144.94,426.83 L146.29,426.61 L147.63,426.39 L148.98,426.18 L150.32,425.96 L151.66,425.74 L153.01,425.52 L154.35,425.31 L155.70,425.09 L157.04,424.87 L158.39,424.65 L159.73,424.44 L161.08,424.22 L162.42,424.00 L163.76,423.79 L165.11,423.57 L166.45,423.36 L167.80,423.14 L169.14,422.92 L170.49,422.71 L171.83,422.49 L173.17,422.28 L174.52,422.06 L175.86,421.85 L177.21,421.63 L178.55,421.42 L179.90,421.20 L181.24,420.99 L182.59,420.77 L183.93,420.56 L185.27,420.35 L186.62,420.13 L187.96,419.92 L189.31,419.71 L190.65,419.49 L192.00,419.28 L193.34,419.07 L194.68,418.85 L196.03,418.64 L197.37,418.43 L198.72,418.21 L200.06,418.00 L201.41,417.79 L202.75,417.58 L204.10,417.37 L205.44,417.15 L206.78,416.94 L208.13,416.73 L209.47,416.52 L210.82,416.31 L212.16,416.10 L213.51,415.89 L214.85,415.68 L216.19,415.47 L217.54,415.26 L218.88,415.04 L220.23,414.83 L221.57,414.62 L222.92,414.41 L224.26,414.21 L225.61,414.00 L226.95,413.79 L228.29,413.58 L229.64,413.37 L230.98,413.16 L232.33,412.95 L233.67,412.74 L235.02,412.53 L236.36,412.32 L237.70,412.12 L239.05,411.91 L240.39,411.70 L241.74,411.49 L243.08,411.28 L244.43,411.08 L245.77,410.87 L247.12,410.66 L248.46,410.46 L249.80,410.25 L251.15,410.04 L252.49,409.84 L253.84,409.63 L255.18,409.42 L256.53,409.22 L257.87,409.01 L259.22,408.80 L260.56,408.60 L261.90,408.39 L263.25,408.19 L264.59,407.98 L265.94,407.78 L267.28,407.57 L268.63,407.37 L269.97,407.16 L271.31,406.96 L272.66,406.75 L274.00,406.55 L275.35,406.34 L276.69,406.14 L278.04,405.94 L279.38,405.73 L280.73,405.53 L282.07,405.33 L283.41,405.12 L284.76,404.92 L286.10,404.72 L287.45,404.51 L288.79,404.31 L290.14,404.11 L291.48,403.91 L292.82,403.70 L294.17,403.50 L295.51,403.30 L296.86,403.10 L298.20,402.90 L299.55,402.70 L300.89,402.49 L302.24,402.29 L303.58,402.09 L304.92,401.89 L306.27,401.69 L307.61,401.49 L308.96,401.29 L310.30,401.09 L311.65,400.89 L312.99,400.69 L314.33,400.49 L315.68,400.29 L317.02,400.09 L318.37,399.89 L319.71,399.69 L321.06,399.49 L322.40,399.29 L323.75,399.10 L325.09,398.90 L326.43,398.70 L327.78,398.50 L329.12,398.30 L330.47,398.10 L331.81,397.91 L333.16,397.71 L334.50,397.51 L335.84,397.31 L337.19,397.12 L338.53,396.92 L339.88,396.72 L341.22,396.53 L342.57,396.33 L343.91,396.13 L345.26,395.94 L346.60,395.74 L347.94,395.54 L349.29,395.35 L350.63,395.15 L351.98,394.96 L353.32,394.76 L354.67,394.57 L356.01,394.37 L357.35,394.18 L358.70,393.98 L360.04,393.79 L361.39,393.59 L362.73,393.40 L364.08,393.20 L365.42,393.01 L366.77,392.81 L368.11,392.62 L369.45,392.43 L370.80,392.23 L372.14,392.04 L373.49,391.85 L374.83,391.65 L376.18,391.46 L377.52,391.27 L378.86,391.08 L380.21,390.88 L381.55,390.69 L382.90,390.50 L384.24,390.31 L385.59,390.12 L386.93,389.93 L388.28,389.73 L389.62,389.54 L390.96,389.35 L392.31,389.16 L393.65,388.97 L395.00,388.78 L396.34,388.59 L397.69,388.40 L399.03,388.21 L400.38,388.02 L401.72,387.83 L403.06,387.64 L404.41,387.45 L405.75,387.26 L407.10,387.07 L408.44,386.88 L409.79,386.69 L411.13,386.51 L412.47,386.32 L413.82,386.13 L415.16,385.94 L416.51,385.75 L417.85,385.57 L419.20,385.38 L420.54,385.19 L421.89,385.00 L423.23,384.82 L424.57,384.63 L425.92,384.44 L427.26,384.26 L428.61,384.07 L429.95,383.88 L431.30,383.70 L432.64,383.51 L433.98,383.33 L435.33,383.14 L436.67,382.96 L438.02,382.77 L439.36,382.59 L440.71,382.40 L442.05,382.22 L443.40,382.03 L444.74,381.85 L446.08,381.67 L447.43,381.48 L448.77,381.30 L450.12,381.12 L451.46,380.93 L452.81,380.75 L454.15,380.57 L455.49,380.38 L456.84,380.20 L458.18,380.02 L459.53,379.84 L460.87,379.66 L462.22,379.48 L463.56,379.29 L464.91,379.11 L466.25,378.93 L467.59,378.75 L468.94,378.57 L470.28,378.39 L471.63,378.21 L472.97,378.03 L474.32,377.85 L475.66,377.68 L477.00,377.50 L478.35,377.32 L479.69,377.14 L481.04,376.96 L482.38,376.78 L483.73,376.61 L485.07,376.43 L486.42,376.25 L487.76,376.08 L489.10,375.90 L490.45,375.72 L491.79,375.55 L493.14,375.37 L494.48,375.20 L495.83,375.02 L497.17,374.85 L498.51,374.67 L499.86,374.50 L501.20,374.33 L502.55,374.15 L503.89,373.98 L505.24,373.81 L506.58,373.64 L507.93,373.46 L509.27,373.29 L510.61,373.12 L511.96,372.95 L513.30,372.78 L514.65,372.61 L515.99,372.44 L517.34,372.27 L518.68,372.10 L520.02,371.93 L521.37,371.77 L522.71,371.60 L524.06,371.43 L525.40,371.27 L526.75,371.10 L528.09,370.93 L529.44,370.77 L530.78,370.60 L532.12,370.44 L533.47,370.28 L534.81,370.11 L536.16,369.95 L537.50,369.79 L538.85,369.63 L540.19,369.46 L541.54,369.30 L542.88,369.14 L544.22,368.99 L545.57,368.83 L546.91,368.67 L548.26,368.51 L549.60,368.35 L550.95,368.20 L552.74,367.99 L554.53,367.79 L556.32,367.58 L558.12,367.38 L559.91,367.18 L561.70,366.98 L563.49,366.78 L565.29,366.58 L567.08,366.39 L568.87,366.19 L570.66,366.00 L572.46,365.81 L574.25,365.62 L576.04,365.44 L577.83,365.25 L579.63,365.07 L581.42,364.89 L583.21,364.71 L585.00,364.53 L586.80,364.36 L588.59,364.19 L590.38,364.02 L592.17,363.85 L593.97,363.69 L595.76,363.53 L597.55,363.37 L599.34,363.22 L601.14,363.06 L602.93,362.92 L604.72,362.77 L606.51,362.63 L608.31,362.49 L610.10,362.35 L611.89,362.22 L613.68,362.10 L615.48,361.97 L617.27,361.86 L619.06,361.74 L620.85,361.63 L622.65,361.53 L624.44,361.43 L626.23,361.34 L628.02,361.25 L629.82,361.16 L631.61,361.09 L633.40,361.01 L635.19,360.95 L636.99,360.89 L638.78,360.84 L640.57,360.79 L642.36,360.75 L644.16,360.72 L645.95,360.70 L647.74,360.69 L649.53,360.68 L651.33,360.68 L653.12,360.69 L654.91,360.72 L656.70,360.75 L658.50,360.79 L660.29,360.84 L662.08,360.90 L663.87,360.98 L665.67,361.06 L667.46,361.16 L669.25,361.27 L671.04,361.39 L672.84,361.53 L674.63,361.69 L676.42,361.85 L678.21,362.04 L680.01,362.23 L681.35,362.39 L682.70,362.56 L684.04,362.74 L685.38,362.93 L686.73,363.13 L688.07,363.35 L689.42,363.57 L690.76,363.80 L692.11,364.05 L693.45,364.31 L694.79,364.58 L696.14,364.86 L697.48,365.16 L698.83,365.47 L700.17,365.79 L701.52,366.13 L702.86,366.49 L704.21,366.86 L705.55,367.24 L706.89,367.64 L708.24,368.06 L709.58,368.50 L710.93,368.95 L712.27,369.42 L713.62,369.91 L714.96,370.42 L716.30,370.95 L717.65,371.50 L718.99,372.07 L720.34,372.66 L721.68,373.28 L723.03,373.91 L724.37,374.58 L725.72,375.26 L727.06,375.97 L728.40,376.71 L729.75,377.47 L731.09,378.26 L732.44,379.08 L733.78,379.93 L735.13,380.81 L736.47,381.72 L737.37,382.34 L738.26,382.98 L739.16,383.63 L740.06,384.30 L740.95,384.98 L741.85,385.68 L742.74,386.39 L743.64,387.12 L744.54,387.86 L745.43,388.63 L746.33,389.41 L747.23,390.20 L748.12,391.02 L749.02,391.85 L749.91,392.70 L750.81,393.57 L751.71,394.46 L752.60,395.37 L753.50,396.30 L754.40,397.24 L755.29,398.21 L756.19,399.20 L757.08,400.22 L757.98,401.25 L758.88,402.30 L759.77,403.38 L760.67,404.49 L761.57,405.61 L762.46,406.76 L763.36,407.93 L764.25,409.13 L765.15,410.36 L766.05,411.61 L766.94,412.89 L767.84,414.19 L768.74,415.52 L769.63,416.88 L770.53,418.27 L771.42,419.69 L772.32,421.13 L773.22,422.61 L774.11,424.12 L775.01,425.66 L775.91,427.23 L776.80,428.84 L777.70,430.48 L778.59,432.15 L779.04,433.00" fill="none" stroke="#0000ff" stroke-width="5.2" stroke-linejoin="round" stroke-linecap="round"/>
<text x="95.9" y="443.80" text-anchor="end">0</text><text x="95.9" y="361.85" text-anchor="end">50</text><text x="95.9" y="279.90" text-anchor="end">100</text><text x="95.9" y="197.95" text-anchor="end">150</text><text x="95.9" y="116.00" text-anchor="end">200</text><text x="95.9" y="34.05" text-anchor="end">250</text><text x="107.55" y="473.2" text-anchor="middle">0</text><text x="232.92" y="473.2" text-anchor="middle">10</text><text x="358.29" y="473.2" text-anchor="middle">20</text><text x="483.66" y="473.2" text-anchor="middle">30</text><text x="609.03" y="473.2" text-anchor="middle">40</text><text x="734.40" y="473.2" text-anchor="middle">50</text><text x="859.77" y="473.2" text-anchor="middle">60</text>
<text class="lab" x="481.41" y="509" text-anchor="middle">Voltage (V)</text>
<text class="lab" transform="translate(25,215.5) rotate(-90)" text-anchor="middle">Power (W)</text>
<rect x="118.8" y="4.75" width="238.50" height="196.55" fill="#fff" stroke="#262626" stroke-width="1.4"/><line x1="126.3" y1="30.9" x2="204.3" y2="30.9" stroke="#0000ff" stroke-width="5.2"/><text x="210.3" y="47.20">1000 w/m<tspan dy="-14" font-size="25">2</tspan></text><line x1="126.3" y1="79.2" x2="204.3" y2="79.2" stroke="#ff00ff" stroke-width="5.2"/><text x="210.3" y="95.50">750 w/m<tspan dy="-14" font-size="25">2</tspan></text><line x1="126.3" y1="126.8" x2="204.3" y2="126.8" stroke="#ff0000" stroke-width="5.2"/><text x="210.3" y="143.10">500 w/m<tspan dy="-14" font-size="25">2</tspan></text><line x1="126.3" y1="173.9" x2="204.3" y2="173.9" stroke="#0000ff" stroke-width="5.2"/><text x="210.3" y="190.20">250 w/m<tspan dy="-14" font-size="25">2</tspan></text>
</svg>
</body></html>
